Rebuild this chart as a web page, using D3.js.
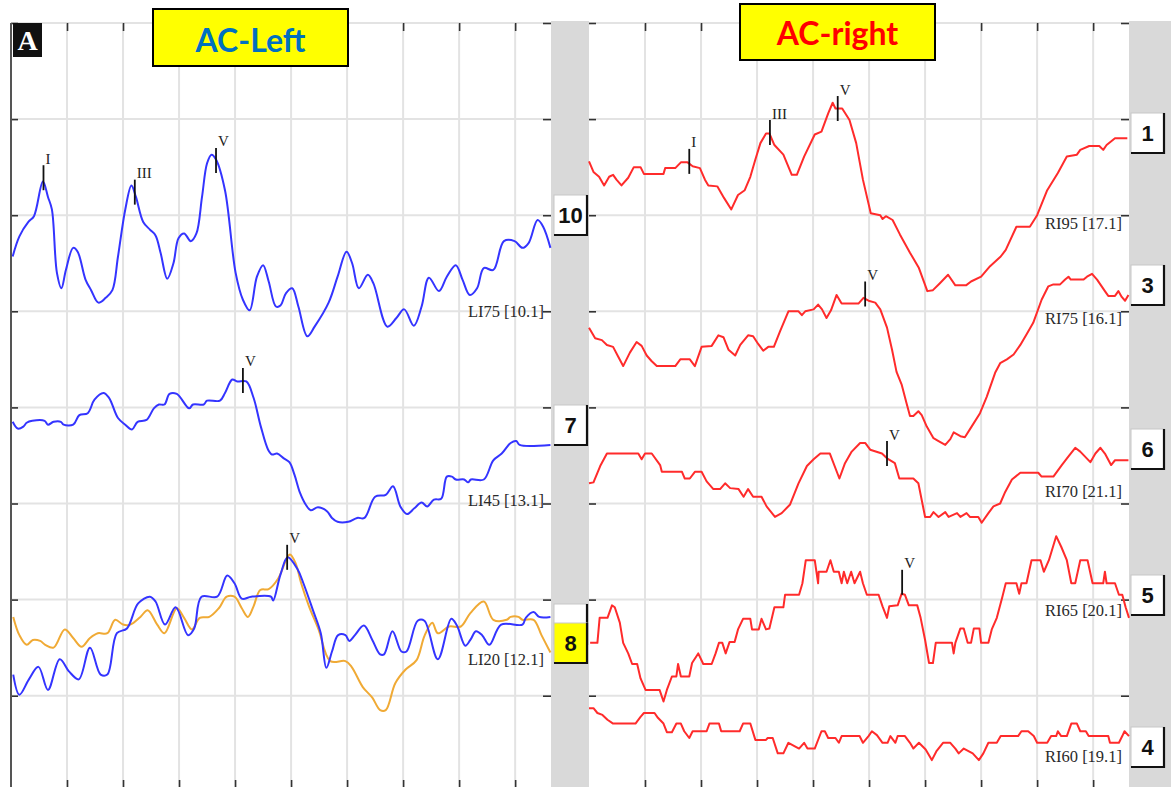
<!DOCTYPE html>
<html><head><meta charset="utf-8">
<script src="https://cdn.jsdelivr.net/npm/d3@7"></script>
<style>
html,body{margin:0;padding:0;background:#fff;}
svg{display:block;}
</style></head><body>
<svg id="chart" width="1171" height="787"></svg>
<script>
// ABR traces: time in ms (one grid column = 1 ms), level in grid rows from the bottom.
const ticksMs = [1, 2, 3, 4, 5, 6, 7, 8, 9];
const rowLevels = [1, 2, 3, 4, 5, 6, 7, 8];

// ---- left ear (AC-Left) ----
const li75 = [[0.03,5.57],[0.15,5.78],[0.31,5.93],[0.41,5.99],[0.57,6.35],[0.66,6.19],[0.73,6.06],[0.82,5.40],[0.90,5.24],[0.98,5.43],[1.11,5.66],[1.19,5.62],[1.33,5.33],[1.43,5.22],[1.56,5.09],[1.69,5.14],[1.81,5.22],[1.91,5.57],[2.04,6.06],[2.15,6.31],[2.23,6.19],[2.36,5.93],[2.48,5.85],[2.58,5.79],[2.67,5.61],[2.79,5.34],[2.90,5.50],[2.99,5.76],[3.09,5.81],[3.21,5.73],[3.31,5.81],[3.41,6.19],[3.50,6.54],[3.58,6.63],[3.66,6.58],[3.82,6.26],[4.01,5.40],[4.14,5.12],[4.26,5.01],[4.39,5.36],[4.50,5.48],[4.60,5.31],[4.73,5.05],[4.81,5.06],[4.91,5.19],[5.02,5.24],[5.13,5.05],[5.29,4.74],[5.42,4.84],[5.67,5.09],[5.83,5.36],[5.99,5.62],[6.09,5.50],[6.21,5.24],[6.37,5.38],[6.47,5.29],[6.72,4.84],[6.88,4.93],[7.02,5.02],[7.19,4.85],[7.33,5.05],[7.46,5.35],[7.64,5.21],[7.78,5.36],[7.94,5.48],[8.06,5.33],[8.19,5.17],[8.32,5.24],[8.44,5.45],[8.61,5.43],[8.80,5.73],[8.99,5.73],[9.13,5.66],[9.24,5.71],[9.40,5.95],[9.50,5.88],[9.63,5.66]];

const li45 = [[0.03,3.85],[0.12,3.78],[0.22,3.80],[0.28,3.84],[0.38,3.86],[0.60,3.86],[0.66,3.82],[0.76,3.85],[0.89,3.85],[0.94,3.82],[1.11,3.82],[1.22,3.92],[1.37,3.94],[1.49,4.08],[1.65,4.15],[1.75,4.10],[1.91,3.89],[2.04,3.82],[2.16,3.77],[2.26,3.85],[2.42,3.87],[2.55,3.99],[2.64,4.03],[2.74,4.03],[2.83,4.14],[2.96,4.14],[3.18,3.99],[3.25,4.03],[3.44,4.03],[3.50,4.07],[3.73,4.07],[3.82,4.15],[3.95,4.29],[4.04,4.27],[4.20,4.27],[4.33,4.10],[4.46,3.80],[4.59,3.56],[4.66,3.51],[4.75,3.52],[4.87,3.47],[4.97,3.43],[5.06,3.30],[5.16,3.11],[5.26,2.99],[5.35,2.93],[5.48,2.96],[5.64,2.92],[5.73,2.85],[5.83,2.81],[6.02,2.81],[6.18,2.85],[6.31,2.85],[6.50,3.07],[6.69,3.09],[6.82,3.18],[6.95,2.97],[7.07,2.89],[7.20,2.95],[7.33,3.01],[7.43,2.97],[7.55,3.04],[7.68,3.05],[7.78,3.28],[7.87,3.28],[7.94,3.25],[8.09,3.25],[8.16,3.22],[8.21,3.25],[8.44,3.25],[8.61,3.45],[8.76,3.52],[8.92,3.63],[9.02,3.65],[9.08,3.61],[9.63,3.61]];

const li20 = [[0.04,1.22],[0.15,1.01],[0.32,1.17],[0.49,1.30],[0.66,1.06],[0.87,1.38],[1.04,1.25],[1.21,1.17],[1.41,1.50],[1.60,1.22],[1.72,1.22],[1.89,1.65],[2.07,1.70],[2.27,1.96],[2.48,2.03],[2.58,1.98],[2.75,1.74],[2.94,1.92],[3.16,1.63],[3.27,1.70],[3.40,2.03],[3.68,2.03],[3.86,2.25],[3.99,2.17],[4.12,2.01],[4.29,2.03],[4.64,2.03],[4.68,1.99],[4.81,2.26],[4.94,2.44],[5.12,2.31],[5.22,2.17],[5.39,1.89],[5.53,1.65],[5.63,1.29],[5.73,1.46],[5.84,1.63],[5.97,1.63],[6.04,1.57],[6.14,1.63],[6.30,1.73],[6.45,1.58],[6.59,1.43],[6.66,1.43],[6.81,1.67],[6.97,1.46],[7.06,1.46],[7.26,1.78],[7.38,1.78],[7.62,1.38],[7.86,1.80],[7.96,1.73],[8.11,1.52],[8.20,1.58],[8.30,1.67],[8.41,1.63],[8.54,1.53],[8.75,1.74],[9.13,1.74],[9.19,1.81],[9.33,1.87],[9.43,1.82],[9.63,1.82]];

// overlaid comparison sweep on the LI20 row
const li20ref = [[0.04,1.82],[0.15,1.63],[0.28,1.53],[0.39,1.58],[0.52,1.57],[0.61,1.53],[0.76,1.50],[0.96,1.69],[1.11,1.60],[1.26,1.51],[1.41,1.60],[1.55,1.65],[1.72,1.65],[1.86,1.79],[2.00,1.74],[2.13,1.74],[2.31,1.82],[2.44,1.89],[2.61,1.74],[2.74,1.65],[2.96,1.91],[3.09,1.81],[3.23,1.69],[3.37,1.81],[3.54,1.82],[3.71,1.91],[3.85,2.03],[3.99,2.03],[4.12,1.91],[4.23,1.82],[4.33,1.93],[4.45,2.10],[4.60,2.11],[4.77,2.22],[4.91,2.41],[4.98,2.47],[5.08,2.38],[5.18,2.17],[5.32,1.93],[5.49,1.69],[5.70,1.36],[5.97,1.36],[6.08,1.30],[6.28,1.09],[6.45,0.98],[6.59,0.85],[6.69,0.85],[6.86,1.13],[7.04,1.27],[7.24,1.37],[7.38,1.62],[7.52,1.76],[7.62,1.65],[7.82,1.72],[8.03,1.72],[8.20,1.86],[8.44,1.98],[8.61,1.79],[8.85,1.79],[8.92,1.82],[9.06,1.82],[9.13,1.79],[9.33,1.79],[9.47,1.63],[9.63,1.45]];

// ---- right ear (AC-right) ----
const ri95 = [[0.00,6.56],[0.08,6.45],[0.18,6.40],[0.27,6.31],[0.36,6.40],[0.43,6.42],[0.49,6.37],[0.58,6.31],[0.70,6.39],[0.80,6.50],[0.92,6.50],[0.98,6.43],[1.33,6.43],[1.36,6.49],[1.54,6.49],[1.64,6.55],[1.76,6.55],[1.85,6.51],[1.98,6.49],[2.07,6.37],[2.13,6.31],[2.29,6.30],[2.41,6.18],[2.54,6.06],[2.66,6.21],[2.78,6.26],[2.88,6.40],[2.97,6.58],[3.06,6.75],[3.16,6.85],[3.22,6.85],[3.31,6.73],[3.47,6.63],[3.62,6.42],[3.71,6.42],[3.84,6.61],[4.03,6.84],[4.15,6.87],[4.27,7.06],[4.35,7.17],[4.40,7.11],[4.52,7.11],[4.65,6.99],[4.77,6.75],[4.89,6.37],[5.03,6.02],[5.20,6.00],[5.24,5.96],[5.30,5.99],[5.42,5.95],[5.55,5.80],[5.73,5.61],[5.89,5.45],[6.04,5.21],[6.14,5.22],[6.26,5.29],[6.41,5.38],[6.54,5.27],[6.73,5.27],[6.82,5.31],[7.00,5.36],[7.16,5.47],[7.35,5.57],[7.44,5.64],[7.63,5.88],[7.87,5.88],[8.00,6.00],[8.18,6.26],[8.37,6.44],[8.53,6.61],[8.71,6.63],[8.77,6.68],[8.93,6.72],[9.11,6.72],[9.18,6.68],[9.24,6.73],[9.39,6.80],[9.61,6.80]];

const ri75 = [[0.00,4.83],[0.11,4.72],[0.23,4.70],[0.32,4.65],[0.43,4.63],[0.52,4.53],[0.61,4.43],[0.73,4.57],[0.85,4.68],[0.94,4.64],[1.03,4.54],[1.12,4.48],[1.21,4.43],[1.54,4.43],[1.63,4.50],[1.80,4.50],[1.89,4.43],[2.01,4.63],[2.19,4.64],[2.31,4.75],[2.40,4.73],[2.49,4.60],[2.61,4.54],[2.70,4.65],[2.84,4.75],[2.93,4.74],[3.02,4.66],[3.11,4.59],[3.20,4.63],[3.30,4.63],[3.41,4.79],[3.56,5.00],[3.74,5.00],[3.80,4.96],[3.86,5.00],[4.01,5.02],[4.09,5.07],[4.16,5.02],[4.24,4.93],[4.32,5.01],[4.42,5.17],[4.51,5.08],[4.81,5.08],[4.90,5.14],[4.99,5.11],[5.11,5.09],[5.20,5.02],[5.32,4.83],[5.41,4.60],[5.49,4.37],[5.58,4.24],[5.67,4.04],[5.73,3.91],[5.79,3.91],[5.88,3.96],[5.94,3.92],[6.03,3.80],[6.15,3.68],[6.24,3.65],[6.36,3.61],[6.45,3.67],[6.51,3.74],[6.63,3.70],[6.71,3.69],[6.83,3.80],[6.98,3.94],[7.10,4.11],[7.25,4.36],[7.34,4.46],[7.46,4.50],[7.58,4.55],[7.70,4.65],[7.82,4.77],[7.93,4.88],[8.08,5.12],[8.20,5.26],[8.29,5.28],[8.41,5.28],[8.50,5.33],[8.56,5.36],[8.60,5.33],[8.83,5.33],[8.89,5.36],[8.98,5.39],[9.07,5.33],[9.21,5.21],[9.27,5.16],[9.39,5.16],[9.45,5.21],[9.51,5.15],[9.57,5.11],[9.63,5.17]];

const ri70 = [[0.00,3.21],[0.08,3.22],[0.20,3.39],[0.32,3.52],[0.88,3.52],[0.94,3.46],[1.00,3.52],[1.12,3.52],[1.27,3.40],[1.30,3.33],[1.66,3.33],[1.71,3.26],[1.80,3.26],[1.89,3.33],[2.01,3.33],[2.10,3.23],[2.22,3.15],[2.34,3.15],[2.43,3.21],[2.52,3.16],[2.67,3.15],[2.76,3.07],[2.84,3.15],[2.93,3.07],[3.08,3.07],[3.17,2.97],[3.32,2.86],[3.44,2.90],[3.59,2.99],[3.74,3.21],[3.89,3.39],[4.01,3.46],[4.13,3.52],[4.30,3.52],[4.47,3.26],[4.57,3.42],[4.69,3.54],[4.84,3.63],[4.93,3.63],[5.02,3.56],[5.23,3.52],[5.32,3.47],[5.46,3.42],[5.54,3.26],[5.79,3.26],[5.88,3.21],[6.00,2.86],[6.09,2.86],[6.15,2.91],[6.24,2.86],[6.36,2.91],[6.42,2.86],[6.57,2.90],[6.63,2.86],[6.74,2.90],[6.80,2.86],[6.95,2.86],[7.01,2.80],[7.13,2.90],[7.22,2.97],[7.34,3.00],[7.43,3.12],[7.55,3.25],[7.70,3.32],[8.02,3.32],[8.08,3.28],[8.29,3.28],[8.44,3.40],[8.56,3.49],[8.68,3.58],[8.77,3.54],[8.95,3.43],[9.04,3.52],[9.13,3.58],[9.21,3.52],[9.32,3.40],[9.39,3.45],[9.63,3.45]];

const ri65 = [[0.02,1.55],[0.15,1.55],[0.19,1.81],[0.33,1.81],[0.41,1.94],[0.46,1.92],[0.55,1.76],[0.61,1.55],[0.70,1.44],[0.77,1.33],[0.86,1.33],[0.92,1.18],[1.01,1.06],[1.26,1.06],[1.33,0.94],[1.39,1.06],[1.48,1.20],[1.56,1.20],[1.59,1.33],[1.64,1.20],[1.79,1.20],[1.84,1.34],[1.95,1.44],[2.04,1.33],[2.19,1.33],[2.26,1.44],[2.32,1.55],[2.38,1.55],[2.44,1.44],[2.51,1.56],[2.60,1.56],[2.66,1.69],[2.75,1.80],[2.88,1.80],[2.91,1.69],[3.03,1.69],[3.08,1.80],[3.16,1.69],[3.22,1.70],[3.31,1.92],[3.47,1.92],[3.50,2.05],[3.75,2.05],[3.81,2.17],[3.87,2.41],[4.03,2.41],[4.09,2.17],[4.10,2.29],[4.24,2.29],[4.31,2.41],[4.37,2.29],[4.46,2.29],[4.51,2.17],[4.55,2.29],[4.61,2.17],[4.68,2.29],[4.74,2.17],[4.84,2.29],[4.89,2.17],[4.96,2.05],[5.17,2.05],[5.24,1.93],[5.32,1.81],[5.36,1.93],[5.51,1.94],[5.58,2.06],[5.64,2.05],[5.71,1.94],[5.86,1.94],[5.92,1.81],[6.00,1.58],[6.07,1.34],[6.14,1.34],[6.19,1.55],[6.48,1.55],[6.51,1.44],[6.54,1.55],[6.63,1.70],[6.69,1.70],[6.76,1.55],[6.82,1.55],[6.87,1.70],[6.97,1.70],[7.00,1.55],[7.13,1.55],[7.19,1.69],[7.28,1.81],[7.38,2.03],[7.44,2.17],[7.63,2.17],[7.68,2.06],[7.72,2.17],[7.81,2.17],[7.90,2.41],[8.06,2.41],[8.12,2.29],[8.21,2.41],[8.34,2.66],[8.43,2.55],[8.53,2.41],[8.61,2.17],[8.68,2.17],[8.77,2.41],[8.90,2.41],[8.99,2.17],[9.18,2.17],[9.21,2.29],[9.24,2.17],[9.39,2.17],[9.46,2.05],[9.52,2.05],[9.58,1.92],[9.64,1.81]];

const ri60 = [[0.00,0.87],[0.08,0.87],[0.15,0.82],[0.24,0.80],[0.33,0.75],[0.43,0.71],[0.83,0.71],[0.92,0.78],[0.98,0.82],[1.17,0.82],[1.23,0.77],[1.33,0.71],[1.39,0.62],[1.48,0.62],[1.56,0.71],[1.64,0.71],[1.70,0.63],[1.79,0.56],[1.85,0.63],[2.10,0.63],[2.15,0.71],[2.32,0.71],[2.36,0.63],[2.69,0.63],[2.75,0.71],[2.88,0.71],[2.97,0.54],[3.16,0.54],[3.19,0.56],[3.28,0.56],[3.37,0.40],[3.47,0.40],[3.56,0.51],[3.75,0.45],[3.84,0.51],[3.90,0.45],[4.03,0.45],[4.15,0.63],[4.21,0.63],[4.27,0.56],[4.40,0.56],[4.46,0.51],[4.51,0.58],[4.83,0.58],[4.89,0.51],[4.99,0.58],[5.05,0.63],[5.14,0.59],[5.24,0.51],[5.33,0.51],[5.38,0.58],[5.47,0.51],[5.51,0.58],[5.64,0.58],[5.73,0.51],[5.79,0.45],[5.89,0.51],[6.01,0.44],[6.12,0.33],[6.20,0.42],[6.32,0.51],[6.45,0.51],[6.54,0.45],[6.60,0.40],[6.69,0.45],[6.85,0.40],[6.96,0.33],[7.04,0.40],[7.13,0.51],[7.28,0.51],[7.35,0.58],[7.66,0.58],[7.72,0.63],[7.84,0.63],[7.94,0.58],[8.00,0.51],[8.18,0.51],[8.25,0.58],[8.34,0.58],[8.37,0.63],[8.43,0.58],[8.53,0.58],[8.61,0.71],[8.71,0.71],[8.77,0.63],[8.87,0.63],[8.92,0.58],[9.27,0.58],[9.30,0.51],[9.46,0.51],[9.52,0.58],[9.56,0.63],[9.64,0.58]];

// trace names with latency readouts
const leftLabels = ['LI75 [10.1]', 'LI45 [13.1]', 'LI20 [12.1]'];
const rightLabels = ['RI95 [17.1]', 'RI75 [16.1]', 'RI70 [21.1]', 'RI65 [20.1]', 'RI60 [19.1]'];

// channel numbers in the side strips
const leftChannels = ['10', '7', '8'];
const rightChannels = ['1', '3', '6', '5', '4'];

// wave markers: time (ms) and level at which the cursor sits
const leftWaves = ['I', 'III', 'V', 'V', 'V'];
const leftWaveMs = [0.58, 2.21, 3.66, 4.14, 4.93];
const leftWaveLevel = [6.39, 6.24, 6.57, 4.28, 2.44];
const rightWaves = ['I', 'III', 'V', 'V', 'V', 'V'];
const rightWaveMs = [1.79, 3.23, 4.44, 4.93, 5.32, 5.59];
const rightWaveLevel = [6.56, 6.86, 7.11, 5.18, 3.52, 2.18];

// ---------------- drawing ----------------
const svg = d3.select('#chart');
const H = 787;
const TOP = 23;

const y = d3.scaleLinear().domain([0, 8]).range([791.8, TOP]);
const panels = [
  { x: d3.scaleLinear().domain([0, 9.64]).range([11, 551]),
    traces: [li75, li45, li20ref, li20], colors: ['#3434ff', '#3434ff', '#f0aa35', '#3434ff'],
    curve: d3.curveCatmullRom.alpha(0.5),
    labels: leftLabels, labelBase: [317, 506, 665],
    waves: leftWaves, waveMs: leftWaveMs, waveLevel: leftWaveLevel },
  { x: d3.scaleLinear().domain([0, 9.64]).range([589, 1129]),
    traces: [ri95, ri75, ri70, ri65, ri60], colors: ['#ff2b2b', '#ff2b2b', '#ff2b2b', '#ff2b2b', '#ff2b2b'],
    curve: d3.curveLinear,
    labels: rightLabels, labelBase: [229, 324, 497, 616, 762],
    waves: rightWaves, waveMs: rightWaveMs, waveLevel: rightWaveLevel }
];

// side strips
svg.append('rect').attr('x', 551).attr('y', 21).attr('width', 38).attr('height', H - 21).attr('fill', '#d9d9d9');
svg.append('rect').attr('x', 1129).attr('y', 21).attr('width', 42).attr('height', H - 21).attr('fill', '#d9d9d9');

panels.forEach(p => {
  const [xl, xr] = p.x.range();
  const g = svg.append('g');

  // grid
  g.selectAll('.vg').data(ticksMs).join('line')
    .attr('x1', d => p.x(d)).attr('x2', d => p.x(d))
    .attr('y1', TOP).attr('y2', H)
    .attr('stroke', '#e3e3e3').attr('stroke-width', 2);
  g.selectAll('.hg').data(rowLevels).join('line')
    .attr('x1', xl).attr('x2', xr)
    .attr('y1', d => y(d)).attr('y2', d => y(d))
    .attr('stroke', '#e3e3e3').attr('stroke-width', 2);

  // tick marks on the frame
  const axTop = d3.axisBottom(p.x).tickValues(ticksMs).tickSize(8).tickFormat('');
  const axBot = d3.axisTop(p.x).tickValues(ticksMs).tickSize(7).tickFormat('');
  const axL = d3.axisRight(y).tickValues(rowLevels).tickSize(7).tickFormat('');
  const axR = d3.axisLeft(y).tickValues(rowLevels).tickSize(8).tickFormat('');
  [[axTop, `translate(0,${TOP})`], [axBot, `translate(0,${H})`],
   [axL, `translate(${xl},0)`], [axR, `translate(${xr},0)`]].forEach(([ax, tr]) => {
    const a = g.append('g').attr('transform', tr).call(ax);
    a.select('.domain').remove();
    a.selectAll('.tick line').attr('stroke', '#333').attr('stroke-width', 1.6);
  });

  // traces
  const line = d3.line().x(d => p.x(d[0])).y(d => y(d[1])).curve(p.curve);
  p.traces.forEach((tr, i) => {
    g.append('path').datum(tr).attr('d', line)
      .attr('fill', 'none').attr('stroke', p.colors[i])
      .attr('stroke-width', 2).attr('stroke-linejoin', 'round');
  });

  // wave cursors
  p.waves.forEach((w, i) => {
    const cx = p.x(p.waveMs[i]);
    const cy = y(p.waveLevel[i]);
    g.append('line').attr('x1', cx).attr('x2', cx)
      .attr('y1', cy - 12.5).attr('y2', cy + 12.5)
      .attr('stroke', '#111').attr('stroke-width', 1.8);
    g.append('text').attr('x', cx + 2).attr('y', cy - 14)
      .attr('font-family', 'Liberation Serif, serif').attr('font-size', 15)
      .attr('fill', '#222').text(w);
  });

  // trace names
  p.labels.forEach((t, i) => {
    g.append('text').attr('x', xr - 7).attr('y', p.labelBase[i])
      .attr('text-anchor', 'end')
      .attr('font-family', 'Liberation Serif, serif').attr('font-size', 16.5)
      .attr('fill', '#2a2a2a').text(t);
  });
});

// left frame edge
svg.append('line').attr('x1', 11).attr('x2', 11).attr('y1', TOP).attr('y2', H)
  .attr('stroke', '#555').attr('stroke-width', 2);

// channel buttons
function button(x, cy, label, fill) {
  const w = 33, h = 40, top = cy - h / 2;
  svg.append('rect').attr('x', x).attr('y', top).attr('width', w).attr('height', h)
    .attr('fill', fill).attr('stroke', '#c8c8c8').attr('stroke-width', 1);
  svg.append('path').attr('d', `M${x + w},${top} V${top + h} H${x}`)
    .attr('fill', 'none').attr('stroke', '#111').attr('stroke-width', 2.2);
  if (label) {
    svg.append('text').attr('x', x + w / 2).attr('y', cy + 8)
      .attr('text-anchor', 'middle').attr('font-family', 'Liberation Sans, Arial, sans-serif')
      .attr('font-weight', 'bold').attr('font-size', 22).attr('fill', '#111').text(label);
  }
}
const leftCenters = [215, 425, 643];
const rightCenters = [133, 285, 449, 595, 747];
// the LI20 row carries two sweeps: a second button sits stacked behind the highlighted one
button(554, 624, null, '#ffffff');
leftChannels.forEach((c, i) => button(554, leftCenters[i], c, i === 2 ? '#ffff00' : '#ffffff'));
rightChannels.forEach((c, i) => button(1131, rightCenters[i], c, '#ffffff'));

// panel letter
svg.append('rect').attr('x', 13).attr('y', 23).attr('width', 29).attr('height', 34).attr('fill', '#111');
svg.append('text').attr('x', 27.5).attr('y', 50).attr('text-anchor', 'middle')
  .attr('font-family', 'Liberation Serif, serif').attr('font-weight', 'bold')
  .attr('font-size', 28).attr('fill', '#fff').text('A');

// ear headings
function heading(x, yTop, w, h, text, color, base) {
  svg.append('rect').attr('x', x).attr('y', yTop).attr('width', w).attr('height', h)
    .attr('fill', '#ffff00').attr('stroke', '#000').attr('stroke-width', 2);
  svg.append('text').attr('x', x + w / 2).attr('y', base).attr('text-anchor', 'middle')
    .attr('font-family', 'Lato, Open Sans, sans-serif').attr('font-weight', 'bold')
    .attr('font-size', 32).attr('fill', color).text(text);
}
heading(153, 9, 195, 57, 'AC-Left', '#0070c0', 52);
heading(740, 4, 195, 56, 'AC-right', '#ff0000', 45);
</script>
</body></html>
